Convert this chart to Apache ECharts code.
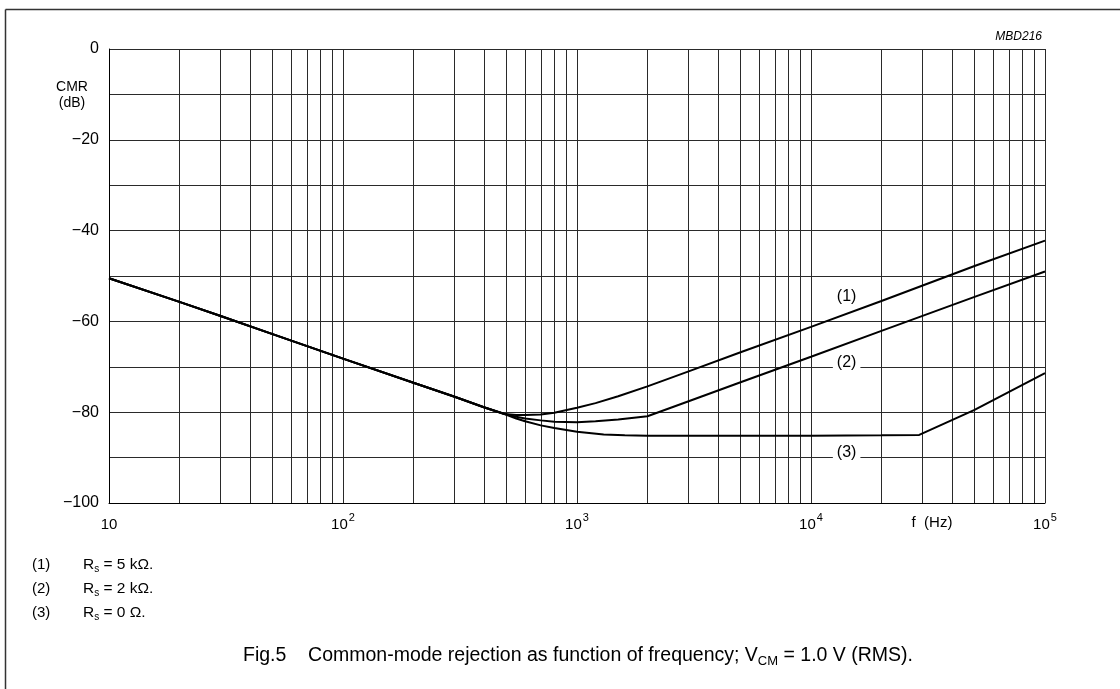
<!DOCTYPE html>
<html>
<head>
<meta charset="utf-8">
<script src="https://cdn.jsdelivr.net/npm/echarts@6/dist/echarts.min.js"></script>
<style>
html,body{margin:0;padding:0;background:#fff;}
#chart{width:1120px;height:689px;}
</style>
</head>
<body>
<div id="chart"></div>
<script>
// ---- data ----
// shared low-frequency branch (all three curves coincide)
const sharedF  = [10, 20, 30, 50, 100, 200, 300, 400, 490];
const sharedDb = [-50.5, -55.7, -58.8, -62.8, -68.2, -73.5, -76.6, -78.9, -80.4];
// (1) Rs = 5 kOhm
const c1F  = [550, 600, 700, 800, 1000, 1200, 1500, 2000, 3000, 5000, 10000, 20000, 50000, 100000];
const c1Db = [-80.6, -80.6, -80.5, -80.1, -79.0, -78.0, -76.5, -74.3, -71.0, -66.8, -61.2, -55.5, -47.8, -42.2];
// (2) Rs = 2 kOhm
const c2F  = [550, 600, 700, 800, 1000, 1200, 1500, 2000, 3000, 5000, 10000, 20000, 50000, 100000];
const c2Db = [-81.0, -81.4, -81.8, -82.1, -82.2, -82.0, -81.6, -80.9, -77.6, -73.4, -67.8, -62.1, -54.6, -49.0];
// (3) Rs = 0 Ohm
const c3F  = [550, 600, 700, 800, 1000, 1300, 1600, 2000, 5000, 10000, 20000, 29000, 50000, 100000];
const c3Db = [-81.4, -82.0, -82.9, -83.5, -84.3, -84.9, -85.1, -85.2, -85.2, -85.2, -85.1, -85.0, -79.5, -71.4];

const curveLabels = ['(1)', '(2)', '(3)'];
const labelF  = [14200, 14200, 14200];
const labelDb = [-54.5, -69.0, -88.9];

const yTicks = [0, -20, -40, -60, -80, -100];
const xTickExponents = [1, 2, 3, 4, 5];
// intermediate logarithmic grid lines (2..9 x 10^n)
const minorGridF = [20,30,40,50,60,70,80,90,
                    200,300,400,500,600,700,800,900,
                    2000,3000,4000,5000,6000,7000,8000,9000,
                    20000,30000,40000,50000,60000,70000,80000,90000];

const notes = [
  ['(1)', 'R{sub|s} = 5 kΩ.'],
  ['(2)', 'R{sub|s} = 2 kΩ.'],
  ['(3)', 'R{sub|s} = 0 Ω.']
];

// ---- build ----
function pairs(fs, ds){ return fs.map((f,i)=>[f, ds[i]]); }
const FONT = 'Liberation Sans, Arial, sans-serif';
const GRID = '#2a2a2a';

const chart = echarts.init(document.getElementById('chart'), null, {renderer:'canvas'});

const curveStyle = {type:'line', symbol:'none', silent:true, animation:false,
  lineStyle:{color:'#000', width:2}, z:5};

const option = {
  animation:false,
  backgroundColor:'#fff',
  grid:{left:109, right:75, top:49, bottom:186, show:false},
  xAxis:{
    type:'log', logBase:10, min:10, max:100000,
    axisLine:{show:true, onZero:false, lineStyle:{color:'#000', width:1}},
    axisTick:{show:false},
    splitLine:{show:true, lineStyle:{color:GRID, width:1}},
    axisLabel:{
      color:'#000', fontFamily:FONT, fontSize:15, margin:9,
      formatter:function(v){
        const e = Math.round(Math.log10(v));
        if (xTickExponents.indexOf(e) < 0) return '';
        return e === 1 ? '{b|10}' : '{b|10}{sup|' + e + '}';
      },
      rich:{
        b:{fontSize:15, fontFamily:FONT, color:'#000', padding:[5,0,0,0], verticalAlign:'bottom'},
        sup:{fontSize:11, fontFamily:FONT, color:'#000', padding:[0,0,0,1], verticalAlign:'top'}
      }
    }
  },
  yAxis:{
    type:'value', min:-100, max:0, interval:10,
    axisLine:{show:true, lineStyle:{color:'#000', width:1}},
    axisTick:{show:false},
    splitLine:{show:true, lineStyle:{color:GRID, width:1}},
    axisLabel:{
      color:'#000', fontFamily:FONT, fontSize:16, margin:10,
      formatter:function(v){
        if (yTicks.indexOf(v) < 0) return '';
        return v === 0 ? '0' : '\u2212' + Math.abs(v);
      }
    }
  },
  series:[
    Object.assign({}, curveStyle, {name:'(1)', data:pairs(sharedF.concat(c1F), sharedDb.concat(c1Db)),
      markLine:{silent:true, symbol:'none', animation:false, label:{show:false},
        lineStyle:{type:'solid', color:GRID, width:1},
        data:minorGridF.map(f=>({xAxis:f}))}}),
    Object.assign({}, curveStyle, {name:'(2)', data:pairs(sharedF.concat(c2F), sharedDb.concat(c2Db))}),
    Object.assign({}, curveStyle, {name:'(3)', data:pairs(sharedF.concat(c3F), sharedDb.concat(c3Db))}),
    {type:'scatter', symbol:'rect', symbolSize:2, silent:true, animation:false, z:10,
      itemStyle:{color:'#fff', opacity:1},
      data:labelF.map((f,i)=>({value:[f, labelDb[i]], name:curveLabels[i]})),
      label:{show:true, position:'inside', formatter:'{b}', color:'#000', opacity:1, fontFamily:FONT, fontSize:16,
        backgroundColor:'#fff', padding:[1,4,1,4], textBorderWidth:0}}
  ],
  graphic:[
    // outer frame (left and top edges)
    {type:'line', shape:{x1:5.5, y1:9.5, x2:5.5, y2:689}, style:{stroke:'#333', lineWidth:1.5}, silent:true},
    {type:'line', shape:{x1:5.5, y1:9.5, x2:1120, y2:9.5}, style:{stroke:'#333', lineWidth:1.5}, silent:true},
    {type:'text', x:1042, y:37, silent:true,
      style:{text:'MBD216', fill:'#000', fontFamily:FONT, fontSize:12, fontStyle:'italic', align:'right', verticalAlign:'middle'}},
    {type:'text', x:72, y:95, silent:true,
      style:{text:'CMR\n(dB)', fill:'#000', fontFamily:FONT, fontSize:14, lineHeight:16, align:'center', verticalAlign:'middle'}},
    {type:'text', x:932, y:523, silent:true,
      style:{text:'f  (Hz)', fill:'#000', fontFamily:FONT, fontSize:15, align:'center', verticalAlign:'middle'}},
    {type:'text', x:578, y:656, silent:true,
      style:{text:'Fig.5    Common-mode rejection as function of frequency; V{sub|CM} = 1.0 V (RMS).',
        fill:'#000', fontFamily:FONT, fontSize:19.5, align:'center', verticalAlign:'middle',
        rich:{sub:{fontSize:13, fontFamily:FONT, fill:'#000', padding:[11,0,0,0]}}}}
  ].concat(notes.map((n,i)=>({type:'group', silent:true, children:[
      {type:'text', x:32, y:565 + i*24, style:{text:n[0], fill:'#000', fontFamily:FONT, fontSize:15, align:'left', verticalAlign:'middle'}},
      {type:'text', x:83, y:565 + i*24, style:{text:n[1], fill:'#000', fontFamily:FONT, fontSize:15.5, align:'left', verticalAlign:'middle',
        rich:{sub:{fontSize:10, fontFamily:FONT, fill:'#000', padding:[9,0,0,0]}}}}
  ]})))
};
chart.setOption(option);
</script>
</body>
</html>
